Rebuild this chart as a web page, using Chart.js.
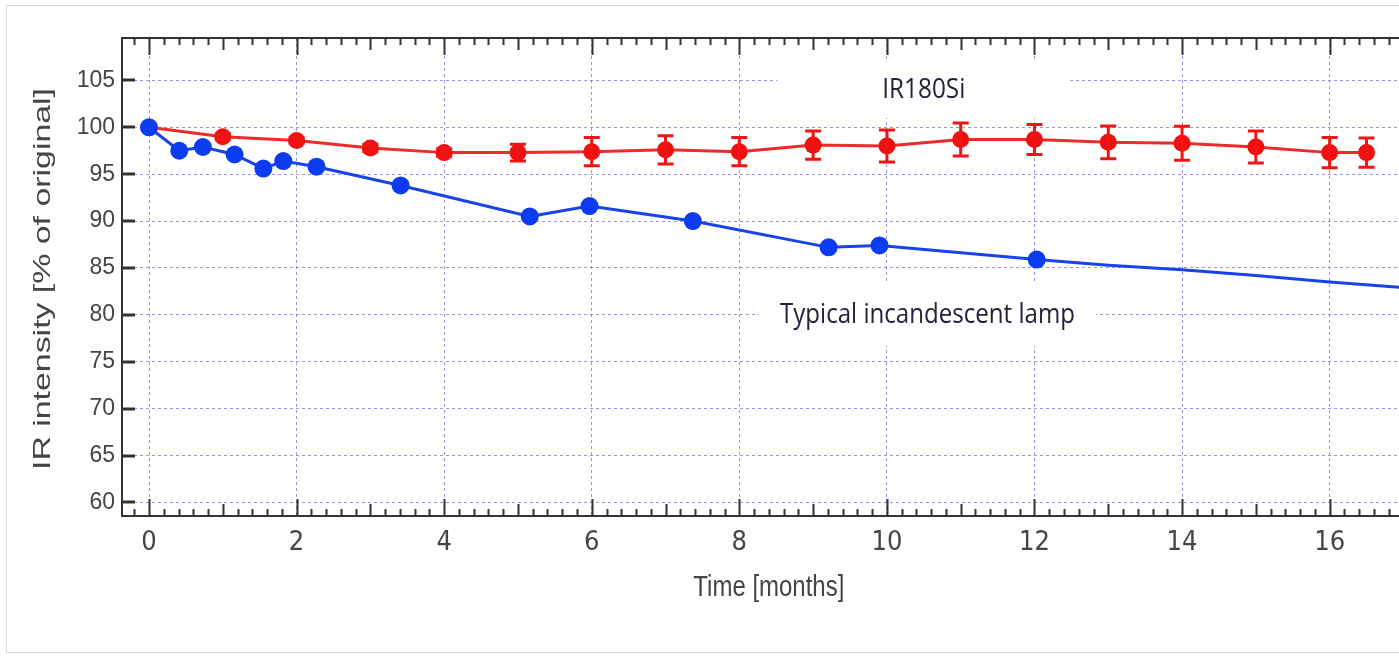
<!DOCTYPE html>
<html>
<head>
<meta charset="utf-8">
<title>IR intensity over time</title>
<script src="https://cdn.jsdelivr.net/npm/chart.js@4.4.1/dist/chart.umd.min.js"></script>
<style>
    html, body { margin: 0; padding: 0; background: #fff; }
    #wrap { width: 1399px; height: 657px; }
</style>
</head>
<body>
<div id="wrap"><canvas id="chart" width="1399" height="657"></canvas></div>
<script>
// typical incandescent lamp (blue), measured points then the trend line without markers
const lampMonths = [0, 0.41, 0.73, 1.16, 1.55, 1.82, 2.27, 3.41, 5.16, 5.97, 7.37, 9.21, 9.9, 12.03]
const lampValues = [100, 97.5, 97.9, 97.1, 95.6, 96.4, 95.8, 93.8, 90.5, 91.6, 90.0, 87.2, 87.4, 85.9]
const lampTailMonths = [13, 14, 15, 16, 17]
const lampTailValues = [85.3, 84.8, 84.2, 83.5, 82.9]

// IR180Si (red) with error bars
const irMonths = [0, 1, 2, 3, 4, 5, 6, 7, 8, 9, 10, 11, 12, 13, 14, 15, 16, 16.5]
const irValues = [100, 99.0, 98.6, 97.8, 97.3, 97.3, 97.4, 97.6, 97.4, 98.1, 98.0, 98.7, 98.7, 98.4, 98.3, 97.9, 97.3, 97.3]
const irErrors = [0, 0.3, 0.3, 0.4, 0.4, 0.9, 1.5, 1.5, 1.5, 1.5, 1.7, 1.75, 1.6, 1.75, 1.8, 1.7, 1.6, 1.55]

const xTicks = [0, 2, 4, 6, 8, 10, 12, 14, 16]
const yTicks = [60, 65, 70, 75, 80, 85, 90, 95, 100, 105]

const labels = [
    { text: "IR180Si", x: 10.5, y: 104.0, width: 83, boxW: 293, boxH: 56 },
    { text: "Typical incandescent lamp", x: 10.55, y: 80.0, width: 295, boxW: 337, boxH: 62 }
]

const narrow = "'DejaVu Sans Condensed', 'Liberation Sans', sans-serif"
const gridColor = "rgba(95, 95, 235, 0.65)"
const textGray = "#454545"

const lampPoints = lampMonths.concat(lampTailMonths).map((m, i) => ({ x: m, y: lampValues.concat(lampTailValues)[i] }))
const irPoints = irMonths.map((m, i) => ({ x: m, y: irValues[i] }))

// draws text squeezed or stretched along its length to a given width
function fitText(ctx, text, width) {
    const w = ctx.measureText(text).width
    ctx.scale(width / w, 1)
    ctx.fillText(text, 0, 0)
}

// white boxes behind the labels, frame and the small ticks
const decorations = {
    id: "decorations",
    beforeDraw(chart) {
        const ctx = chart.ctx
        ctx.save()
        ctx.strokeStyle = "#d9d9d9"
        ctx.lineWidth = 1
        ctx.strokeRect(6.5, 5.5, 1400, 647)
        ctx.restore()
    },
    beforeDatasetsDraw(chart) {
        const { ctx, chartArea: a, scales: { x, y } } = chart
        ctx.save()
        labels.forEach(l => {
            const cx = x.getPixelForValue(l.x)
            const cy = y.getPixelForValue(l.y)
            ctx.fillStyle = "#fff"
            ctx.fillRect(cx - l.boxW / 2, cy - l.boxH / 2, l.boxW, l.boxH)
            ctx.font = "28px 'Open Sans', 'Noto Sans', sans-serif"
            ctx.fillStyle = "#22223a"
            ctx.textAlign = "center"
            ctx.textBaseline = "middle"
            ctx.save()
            ctx.translate(cx, cy)
            fitText(ctx, l.text, l.width)
            ctx.restore()
        })

        ctx.strokeStyle = "#333"
        ctx.lineWidth = 2
        ctx.beginPath()
        ctx.moveTo(a.right + 2, a.top)
        ctx.lineTo(a.left, a.top)
        ctx.lineTo(a.left, a.bottom)
        ctx.lineTo(a.right + 2, a.bottom)
        ctx.stroke()

        // ticks every 0.2 month on top and bottom
        ctx.lineWidth = 2
        for (let k = -1; k * 0.2 <= x.max; k++) {
            const v = k * 0.2
            if (v < x.min) continue
            const px = Math.round(x.getPixelForValue(v)) + 0.5
            let len = 7
            if (k % 10 === 0) len = 17
            else if (k % 5 === 0) len = 12
            ctx.beginPath()
            ctx.moveTo(px, a.top)
            ctx.lineTo(px, a.top + len)
            ctx.moveTo(px, a.bottom)
            ctx.lineTo(px, a.bottom - len)
            ctx.stroke()
        }
        ctx.lineWidth = 3
        yTicks.forEach(v => {
            const py = Math.round(y.getPixelForValue(v))
            ctx.beginPath()
            ctx.moveTo(a.left, py)
            ctx.lineTo(a.left + 13, py)
            ctx.stroke()
        })
        ctx.restore()
    },
    afterDatasetsDraw(chart) {
        const { ctx, scales: { x, y } } = chart
        ctx.save()
        ctx.strokeStyle = "#f01414"
        ctx.lineWidth = 3
        irMonths.forEach((m, i) => {
            if (!irErrors[i]) return
            const px = x.getPixelForValue(m)
            const top = y.getPixelForValue(irValues[i] + irErrors[i])
            const bot = y.getPixelForValue(irValues[i] - irErrors[i])
            ctx.beginPath()
            ctx.moveTo(px, top)
            ctx.lineTo(px, bot)
            ctx.moveTo(px - 8, top)
            ctx.lineTo(px + 8, top)
            ctx.moveTo(px - 8, bot)
            ctx.lineTo(px + 8, bot)
            ctx.stroke()
        })
        ctx.restore()
    },
    afterDraw(chart) {
        const { ctx, chartArea: a, scales: { x } } = chart
        ctx.save()
        ctx.fillStyle = textGray
        ctx.textAlign = "center"
        ctx.textBaseline = "middle"

        ctx.save()
        ctx.font = "24px 'Liberation Sans', Arial, sans-serif"
        ctx.translate(43, 279)
        ctx.rotate(-Math.PI / 2)
        fitText(ctx, "IR intensity [% of original]", 382)
        ctx.restore()

        ctx.save()
        ctx.font = "29px 'Liberation Sans', Arial, sans-serif"
        ctx.translate(x.getPixelForValue(8.4), a.bottom + 72)
        fitText(ctx, "Time [months]", 151)
        ctx.restore()

        ctx.restore()
    }
}

new Chart(document.getElementById("chart"), {
    type: "scatter",
    data: {
        datasets: [
            {
                label: "Typical incandescent lamp",
                data: lampPoints,
                showLine: true,
                borderColor: "#1743e8",
                borderWidth: 3,
                backgroundColor: "#0b3cf2",
                pointBorderWidth: 0,
                pointRadius: c => (c.dataIndex < lampMonths.length ? 9 : 0),
                tension: 0
            },
            {
                label: "IR180Si",
                data: irPoints,
                showLine: true,
                borderColor: "#ee2b2b",
                borderWidth: 3,
                backgroundColor: "#f01010",
                pointBorderWidth: 0,
                pointRadius: 8.5,
                tension: 0
            }
        ]
    },
    options: {
        responsive: false,
        animation: false,
        devicePixelRatio: 1,
        layout: { autoPadding: false, padding: { top: 38, right: 0, bottom: 0, left: 0 } },
        plugins: {
            legend: { display: false },
            tooltip: { enabled: false }
        },
        scales: {
            x: {
                type: "linear",
                min: -0.366,
                max: 16.94,
                afterBuildTicks: s => { s.ticks = xTicks.map(v => ({ value: v })) },
                afterFit: s => { s.height = 141 },
                ticks: {
                    font: { family: narrow, size: 27 },
                    color: textGray,
                    padding: 11
                },
                grid: { color: gridColor, lineWidth: 1, drawTicks: false },
                border: { display: false, dash: [3, 3] }
            },
            y: {
                min: 58.56,
                max: 109.52,
                afterBuildTicks: s => { s.ticks = yTicks.map(v => ({ value: v })) },
                afterFit: s => { s.width = 122 },
                ticks: {
                    font: { family: "'Liberation Sans', Arial, sans-serif", size: 23 },
                    color: textGray,
                    padding: 7
                },
                grid: { color: gridColor, lineWidth: 1, drawTicks: false },
                border: { display: false, dash: [3, 3] }
            }
        }
    },
    plugins: [decorations]
})
</script>
</body>
</html>
